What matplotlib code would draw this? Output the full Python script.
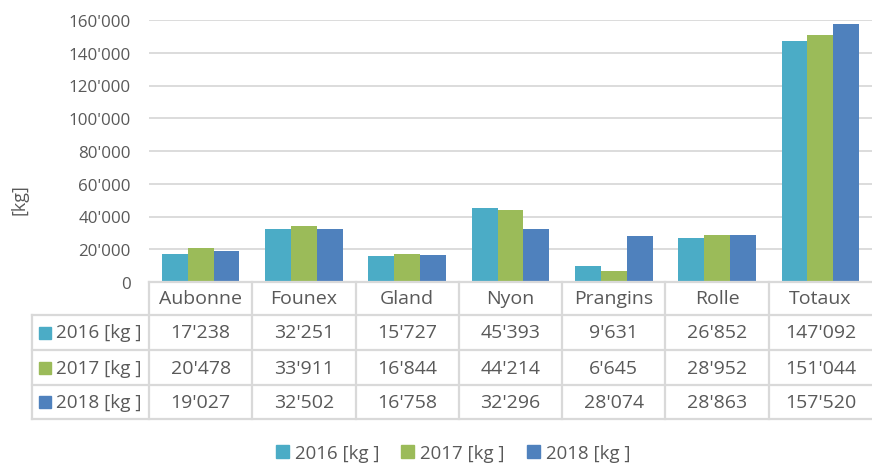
import numpy as np
import matplotlib
matplotlib.use("Agg")
import matplotlib.pyplot as plt
import matplotlib.transforms as mtransforms
from matplotlib.lines import Line2D
from matplotlib.patches import Rectangle

# data
communes = ["Aubonne", "Founex", "Gland", "Nyon", "Prangins", "Rolle", "Totaux"]
series = ["2016 [kg ]", "2017 [kg ]", "2018 [kg ]"]
v2016 = [17238, 32251, 15727, 45393, 9631, 26852, 147092]
v2017 = [20478, 33911, 16844, 44214, 6645, 28952, 151044]
v2018 = [19027, 32502, 16758, 32296, 28074, 28863, 157520]
colors = ["#4BACC6", "#9BBB59", "#4F81BD"]

plt.rcParams['font.family'] = ['Open Sans', 'DejaVu Sans']
txt = "#595959"
grid = "#D9D9D9"

W, H = 872, 464
fig = plt.figure(figsize=(W / 100, H / 100), dpi=100)

def fx(px):
    return px / W

def fy(py):
    return 1 - py / H

left, right, top, bottom = 149, 872, 21, 283
ax = fig.add_axes([fx(left), fy(bottom), fx(right - left), (bottom - top) / H])

x = np.arange(len(communes))
w = 0.25
for k, vals in enumerate([v2016, v2017, v2018]):
    ax.bar(x + (k - 1) * w, vals, w, color=colors[k], zorder=3)

ax.set_xlim(-0.5, len(communes) - 0.5)
ax.set_ylim(0, 160000)
ax.set_yticks(np.arange(0, 160001, 20000))
ax.set_yticklabels(["0"] + ["{}'000".format(v) for v in range(20, 161, 20)])
ax.tick_params(axis='y', length=0, pad=13, labelsize=12.2, labelcolor=txt)
ax.set_xticks([])
for s in ax.spines.values():
    s.set_visible(False)
ax.yaxis.grid(True, color=grid, lw=1.3, zorder=0)
ax.set_axisbelow(True)
fig.text(fx(19), fy(200), "[kg]", rotation=90, ha='center', va='center',
         fontsize=13, color=txt)

# data table under the axis
tr = mtransforms.blended_transform_factory(ax.transData, fig.transFigure)
rows_y = [283, 316, 351, 386, 420]
lw = 1.6
fs = 14
# horizontal lines
fig.add_artist(Line2D([-0.5, len(communes) - 0.5], [fy(283)] * 2, transform=tr,
                      color=grid, lw=lw))
for yy in rows_y[1:]:
    fig.add_artist(Line2D([fx(32), fx(W)], [fy(yy)] * 2, color=grid, lw=lw))
# vertical lines
for i in range(len(communes)):
    fig.add_artist(Line2D([i - 0.5, i - 0.5], [fy(283), fy(420)], transform=tr,
                          color=grid, lw=lw))
fig.add_artist(Line2D([fx(32), fx(32)], [fy(316), fy(420)], color=grid, lw=lw))

for i, c in enumerate(communes):
    fig.text(i, fy(299), c, transform=tr, ha='center', va='center',
             fontsize=fs, color=txt)
for r, vals in enumerate([v2016, v2017, v2018]):
    yc = fy((rows_y[r + 1] + rows_y[r + 2]) / 2)
    fig.add_artist(Rectangle((fx(39), yc - 6 / H), 12 / W, 12 / H,
                             color=colors[r], transform=fig.transFigure))
    fig.text(fx(56), yc, series[r], ha='left', va='center', fontsize=13.6, color=txt)
    for i, v in enumerate(vals):
        fig.text(i, yc, "{:,}".format(v).replace(",", "'"), transform=tr,
                 ha='center', va='center', fontsize=fs, color=txt)

handles = [Rectangle((0, 0), 1, 1, color=c) for c in colors]
fig.legend(handles, series, loc='center', bbox_to_anchor=(fx(453), fy(454)),
           ncol=3, frameon=False, fontsize=13.4, labelcolor=txt,
           handlelength=0.7, handleheight=0.7, handletextpad=0.3,
           columnspacing=1.2, borderpad=0, borderaxespad=0)

fig.savefig("out.png", dpi=100)
